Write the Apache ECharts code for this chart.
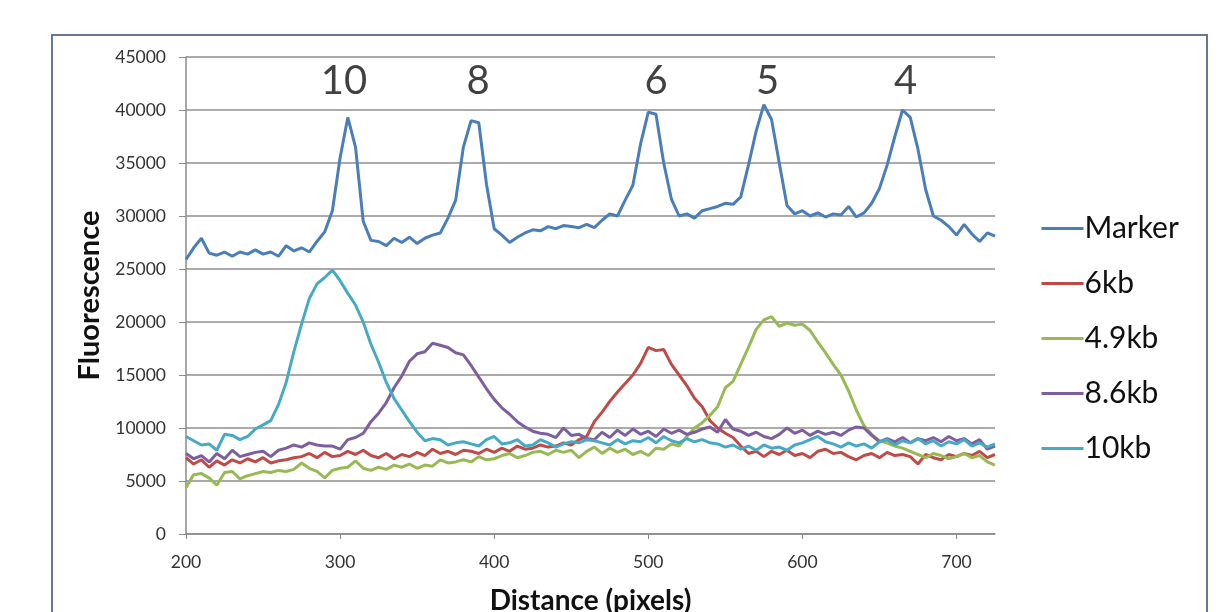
<!DOCTYPE html>
<html>
<head>
<meta charset="utf-8">
<script src="https://cdn.jsdelivr.net/npm/echarts@6/dist/echarts.min.js"></script>
<style>
html,body{margin:0;padding:0;background:#fff;}
#chart{width:1227px;height:612px;}
</style>
</head>
<body>
<div id="chart"></div>
<script>
// Distance (pixels), step 5 from 200 to 725
const distance = [200,205,210,215,220,225,230,235,240,245,250,255,260,265,270,275,280,285,290,295,300,305,310,315,320,325,330,335,340,345,350,355,360,365,370,375,380,385,390,395,400,405,410,415,420,425,430,435,440,445,450,455,460,465,470,475,480,485,490,495,500,505,510,515,520,525,530,535,540,545,550,555,560,565,570,575,580,585,590,595,600,605,610,615,620,625,630,635,640,645,650,655,660,665,670,675,680,685,690,695,700,705,710,715,720,725];

const seriesNames = ['Marker','6kb','4.9kb','8.6kb','10kb'];

const marker = [25900,27000,27900,26500,26300,26600,26200,26600,26400,26800,26400,26600,26200,27200,26700,27000,26600,27600,28500,30500,35500,39300,36500,29500,27700,27600,27200,27900,27500,28000,27400,27900,28200,28400,29800,31500,36500,39000,38800,33000,28800,28200,27500,28000,28400,28700,28600,29000,28800,29100,29000,28900,29200,28900,29600,30200,30000,31500,32900,36800,39800,39600,35000,31600,30000,30200,29800,30500,30700,30900,31200,31100,31800,34800,38000,40500,39100,35000,31000,30200,30500,30000,30300,29900,30200,30100,30900,29900,30300,31200,32600,34800,37500,40000,39300,36300,32500,30000,29600,29000,28200,29200,28300,27600,28400,28100];

const kb6 = [7200,6600,7000,6300,6900,6500,7000,6700,7100,6800,7200,6700,6900,7000,7200,7300,7600,7200,7700,7300,7400,7800,7500,7900,7400,7200,7600,7100,7500,7300,7700,7400,8000,7600,7800,7500,7900,7800,7600,8000,7700,8100,7800,8300,8000,8100,8400,8200,8300,8600,8400,8900,9200,10600,11500,12500,13400,14200,15000,16100,17600,17300,17400,16000,15000,14000,12800,12000,10700,10000,9500,9100,8300,7600,7800,7300,7800,7500,7900,7400,7600,7200,7800,8000,7600,7700,7300,7000,7400,7600,7200,7700,7400,7500,7300,6600,7500,7200,7000,7500,7300,7600,7400,7800,7200,7500];

const kb49 = [4400,5600,5700,5300,4600,5800,5900,5200,5500,5700,5900,5800,6000,5900,6100,6700,6200,5900,5300,6000,6200,6300,6900,6200,6000,6300,6100,6500,6300,6600,6200,6500,6400,7000,6700,6800,7000,6800,7300,7000,7100,7400,7600,7200,7400,7700,7800,7500,7900,7700,7900,7200,7800,8200,7600,8100,7700,8000,7500,7800,7400,8100,8000,8500,8300,9200,10000,10500,11200,12000,13800,14400,16000,17600,19300,20200,20500,19600,19900,19700,19800,19200,18100,17100,16000,15000,13500,11700,10200,9400,8800,8600,8300,8100,7800,7500,7200,7600,7400,7100,7300,7600,7200,7400,6800,6500];

const kb86 = [7600,7100,7400,6800,7600,7100,7900,7300,7500,7700,7800,7300,7900,8100,8400,8200,8600,8400,8300,8300,8000,8900,9100,9500,10600,11400,12400,13800,14900,16300,17000,17200,18000,17800,17600,17100,16900,15900,14800,13700,12700,11900,11300,10600,10100,9700,9500,9400,9100,10000,9300,9400,9000,8900,9600,9100,9800,9300,9900,9400,9700,9200,9900,9500,9800,9400,9600,9900,10100,9600,10800,9900,9700,9300,9600,9200,9000,9400,10000,9500,9800,9300,9700,9400,9600,9300,9800,10100,10000,9300,8700,9000,8700,9100,8600,9000,8800,9100,8700,9200,8800,9000,8500,8900,8000,8300];

const kb10 = [9200,8800,8400,8500,7900,9400,9300,8900,9200,9900,10300,10700,12200,14300,17200,19800,22200,23600,24200,24900,23900,22700,21600,20000,17900,16200,14300,12800,11700,10600,9600,8800,9000,8900,8400,8600,8700,8500,8300,8900,9200,8500,8600,8900,8300,8400,8900,8600,8200,8500,8700,8600,8900,8800,8600,8400,8900,8500,8800,8700,9100,8600,9200,8800,8600,9000,8700,8900,8600,8500,8200,8400,8000,8300,7900,8400,8100,8200,7900,8400,8600,8900,9200,8700,8500,8200,8600,8300,8500,8100,8700,8900,8400,8800,8600,9000,8500,8800,8300,8700,8500,8900,8300,8600,8200,8500];

const seriesColors = ['#4A7EBB','#BE4B48','#98B954','#7D5FA0','#46AAC5'];

// Peak labels (marker band sizes)
const peakLabels = ['10','8','6','5','4'];
const peakX = [302.5,389.5,505,577.5,667];
const peakY = [42700,42700,42700,42700,42700];

const xTicks = [200,300,400,500,600,700];

const allData = [marker, kb6, kb49, kb86, kb10];
const FONT = 'Lato';

const chart = echarts.init(document.getElementById('chart'), null, {renderer:'canvas'});

const lineSeries = seriesNames.map((name, i) => ({
  name: name,
  type: 'line',
  data: distance.map((d, j) => [d, allData[i][j]]),
  showSymbol: false,
  symbol: 'none',
  lineStyle: {color: seriesColors[i], width: 3},
  itemStyle: {color: seriesColors[i]},
  animation: false,
  z: 2 + i
}));

lineSeries.push({
  name: 'peaks',
  type: 'scatter',
  symbolSize: 0,
  data: peakX.map((x, i) => ({value: [x, peakY[i]], label: {formatter: peakLabels[i]}})),
  label: {show: true, position: 'inside', fontSize: 40, color: '#111', fontFamily: FONT},
  silent: true,
  animation: false,
  z: 10
});

chart.setOption({
  backgroundColor: '#fff',
  animation: false,
  graphic: [{
    type: 'rect',
    shape: {x: 52, y: 35, width: 1155, height: 610},
    style: {fill: 'none', stroke: '#65789A', lineWidth: 2},
    silent: true,
    z: 0
  }],
  grid: {left: 186, right: 232, top: 57, bottom: 78, containLabel: false, outerBoundsMode: 'none'},
  legend: {
    data: seriesNames,
    orient: 'vertical',
    left: 1035,
    top: 208,
    itemWidth: 42,
    itemHeight: 14,
    itemGap: 24,
    itemStyle: {opacity: 0},
    lineStyle: {width: 3},
    textStyle: {fontSize: 30, fontFamily: FONT, color: '#111', lineHeight: 31, padding: [0,0,0,-4]}
  },
  xAxis: {
    type: 'value',
    min: 200,
    max: 725,
    interval: 100,
    name: 'Distance (pixels)',
    nameLocation: 'middle',
    nameGap: 53,
    nameTextStyle: {fontSize: 28, fontWeight: 'bold', fontFamily: FONT, color: '#111'},
    axisLine: {show: true, lineStyle: {color: '#8a8a8a', width: 1.5}},
    axisTick: {show: true, length: 5, customValues: xTicks, lineStyle: {color: '#8a8a8a'}},
    axisLabel: {fontSize: 17.5, fontFamily: FONT, color: '#333', margin: 19, customValues: xTicks},
    splitLine: {show: false}
  },
  yAxis: {
    type: 'value',
    min: 0,
    max: 45000,
    interval: 5000,
    name: 'Fluorescence',
    nameLocation: 'middle',
    nameGap: 74,
    nameTextStyle: {fontSize: 29, fontWeight: 'bold', fontFamily: FONT, color: '#111'},
    axisLine: {show: true, lineStyle: {color: '#8a8a8a', width: 1.5}},
    axisTick: {show: true, length: 7, lineStyle: {color: '#8a8a8a'}},
    axisLabel: {fontSize: 17.5, fontFamily: FONT, color: '#333', margin: 20, formatter: function (v) { return String(v); }},
    splitLine: {show: true, lineStyle: {color: '#8f8f8f', width: 1.5}}
  },
  series: lineSeries
});
</script>
</body>
</html>
